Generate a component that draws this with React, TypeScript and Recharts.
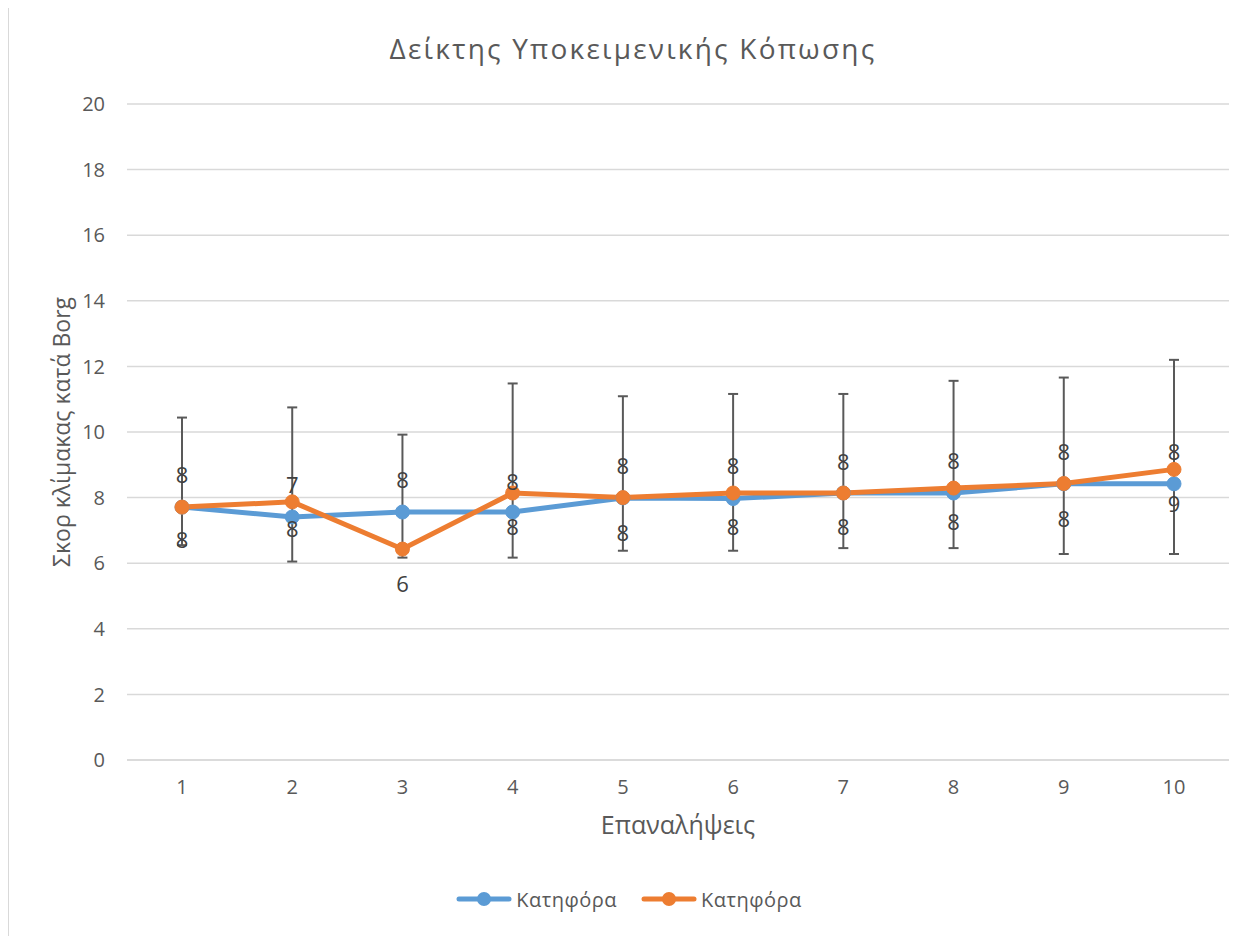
import React from 'react';
import { LineChart, Line, XAxis, YAxis, CartesianGrid, Legend, ErrorBar, LabelList, Label } from 'recharts';

const reps = [1, 2, 3, 4, 5, 6, 7, 8, 9, 10];
const blueValues = [7.71, 7.41, 7.56, 7.56, 7.99, 7.97, 8.14, 8.14, 8.42, 8.42];
const orangeValues = [7.71, 7.87, 6.43, 8.14, 8.0, 8.14, 8.14, 8.29, 8.43, 8.86];
const barHigh = [10.44, 10.75, 9.92, 11.48, 11.09, 11.16, 11.16, 11.56, 11.66, 12.2];
const barLow = [6.55, 6.05, 6.17, 6.17, 6.38, 6.38, 6.46, 6.46, 6.28, 6.28];
const upperText = ['8', '7', '8', '8', '8', '8', '8', '8', '8', '8'];
const upperPos = [8.67, 8.38, 8.52, 8.48, 8.97, 8.97, 9.09, 9.12, 9.38, 9.38];
const lowerText = ['8', '8', '6', '8', '8', '8', '8', '8', '8', '9'];
const lowerPos = [6.69, 7.04, 5.37, 7.1, 6.92, 7.1, 7.1, 7.24, 7.35, 7.8];
const yTicks = [0, 2, 4, 6, 8, 10, 12, 14, 16, 18, 20];
const seriesNames = ['Κατηφόρα', 'Κατηφόρα'];
const colors = ['#5B9BD5', '#ED7D31'];

const data = reps.map((rep, i) => ({
  rep,
  blue: blueValues[i],
  orange: orangeValues[i],
  low: barLow[i],
  high: barHigh[i],
  upperPos: upperPos[i],
  upperText: upperText[i],
  lowerPos: lowerPos[i],
  lowerText: lowerText[i],
}));

const font = '"Open Sans", "Noto Sans", sans-serif';
const textColor = '#595959';

function LegendContent() {
  return (
    <div style={{ display: 'flex', justifyContent: 'center', alignItems: 'center', height: 30, fontFamily: font, fontSize: 20, letterSpacing: 0.5, color: textColor }}>
      {seriesNames.map((name, i) => (
        <div key={i} style={{ display: 'flex', alignItems: 'center', marginLeft: i ? 24 : 0 }}>
          <svg width={56} height={18}>
            <line x1={3} y1={9} x2={53} y2={9} stroke={colors[i]} strokeWidth={5} strokeLinecap="round" />
            <circle cx={28} cy={9} r={7} fill={colors[i]} />
          </svg>
          <span style={{ marginLeft: 4 }}>{name}</span>
        </div>
      ))}
    </div>
  );
}

export default function App() {
  return (
    <div style={{ position: 'relative', width: 1248, height: 928, borderLeft: '2px solid #d9d9d9', borderTop: '1px solid #d9d9d9', marginLeft: -1, marginTop: -1 }}>
      <div style={{ position: 'absolute', top: 22, left: 0, width: 1248, textAlign: 'center', fontFamily: font, fontSize: 28, letterSpacing: 2.2, color: textColor, lineHeight: '36px' }}>
        Δείκτης Υποκειμενικής Κόπωσης
      </div>
      <LineChart width={1248} height={928} data={data} margin={{ top: 96, right: 28, left: 20, bottom: 22 }}>
        <CartesianGrid vertical={false} stroke="#d9d9d9" strokeWidth={1.5} />
        <XAxis
          dataKey="rep"
          height={124}
          padding={{ left: 55, right: 55 }}
          axisLine={{ stroke: '#d9d9d9', strokeWidth: 1.5 }}
          tickLine={false}
          tickSize={0}
          tickMargin={20}
          tick={{ fill: textColor, fontSize: 20, fontFamily: font }}
        >
          <Label value="Επαναλήψεις" position="insideTop" offset={56} fill={textColor} fontSize={25} fontFamily={font} />
        </XAxis>
        <YAxis
          type="number"
          domain={[0, 20]}
          ticks={yTicks}
          width={98}
          axisLine={false}
          tickLine={false}
          tickSize={0}
          tickMargin={22}
          tick={{ fill: textColor, fontSize: 20, fontFamily: font }}
        >
          <Label value="Σκορ κλίμακας κατά Borg" angle={-90} position="insideLeft" offset={33} fill={textColor} fontSize={23} fontFamily={font} style={{ textAnchor: 'middle' }} />
        </YAxis>
        <Legend verticalAlign="bottom" content={<LegendContent />} />
        <Line dataKey="upperPos" stroke="none" dot={false} activeDot={false} legendType="none" isAnimationActive={false}>
          <LabelList dataKey="upperText" position="center" fill="#404040" fontSize={22} fontFamily={font} />
        </Line>
        <Line dataKey="lowerPos" stroke="none" dot={false} activeDot={false} legendType="none" isAnimationActive={false}>
          <LabelList dataKey="lowerText" position="center" fill="#404040" fontSize={22} fontFamily={font} />
        </Line>
        <Line dataKey="blue" stroke="none" dot={false} activeDot={false} legendType="none" isAnimationActive={false}>
          <ErrorBar dataKey={(d: any) => [d.blue - d.low, d.high - d.blue]} direction="y" width={5} stroke="#595959" strokeWidth={2} />
        </Line>
        <Line dataKey="blue" name={seriesNames[0]} stroke={colors[0]} strokeWidth={5} dot={{ r: 7, fill: colors[0], stroke: colors[0], strokeWidth: 1 }} activeDot={false} isAnimationActive={false} />
        <Line dataKey="orange" name={seriesNames[1]} stroke={colors[1]} strokeWidth={5} dot={{ r: 7, fill: colors[1], stroke: colors[1], strokeWidth: 1 }} activeDot={false} isAnimationActive={false} />
      </LineChart>
    </div>
  );
}
